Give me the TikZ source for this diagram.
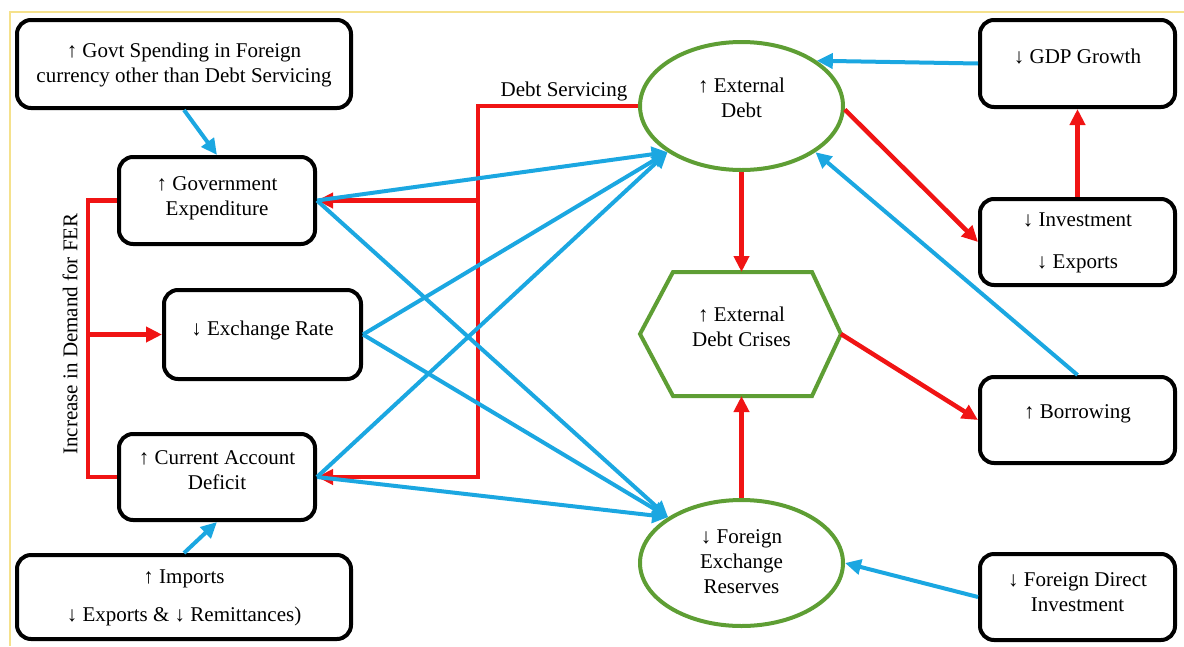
\documentclass[tikz,border=0pt]{standalone}
\usepackage{fontspec}
\setmainfont{Liberation Serif}
\usetikzlibrary{arrows.meta,shapes.geometric,calc}
\definecolor{cblue}{RGB}{27,167,225}
\definecolor{cred}{RGB}{240,20,20}
\definecolor{cgreen}{RGB}{94,158,52}
\definecolor{cyell}{RGB}{245,225,140}
\begin{document}
\begin{tikzpicture}[x=1pt,y=-1pt,
  font=\fontsize{21}{25}\selectfont,
  box/.style={draw=black, line width=4pt, rounded corners=14pt, inner sep=0pt, align=center},
  oval/.style={ellipse, draw=cgreen, line width=4pt, inner sep=0pt, align=center},
  barrow/.style={draw=cblue, line width=4pt, -{Triangle[length=16pt,width=15pt]}},
  rarrow/.style={draw=cred, line width=4.5pt, -{Triangle[length=16pt,width=15pt]}},
  rline/.style={draw=cred, line width=4.5pt},
  hexline/.style={draw=cgreen, line width=4pt},
  frame/.style={draw=cyell, line width=1.5pt}
]
\useasboundingbox (0,0) rectangle (1184,646);
\draw[frame] (10,646) -- (10,12) -- (1184,12);

% left column
\node[box, minimum width=334pt, minimum height=88pt, text depth=2pt] (gs) at (184,64)
  {↑ Govt Spending in Foreign\\currency other than Debt Servicing};
\node[box, minimum width=196pt, minimum height=87pt, text depth=9pt] (ge) at (217,200.5)
  {↑ Government\\Expenditure};
\node[box, minimum width=197pt, minimum height=89pt, text depth=13pt] (er) at (262.5,334.5)
  {↓ Exchange Rate};
\node[box, minimum width=196pt, minimum height=86pt, text depth=14pt] (cad) at (217,477)
  {↑ Current Account\\Deficit};
\node[box, minimum width=334pt, minimum height=84pt, text depth=2pt] (imp) at (184,597)
  {↑ Imports\\[13pt]↓ Exports \& ↓ Remittances)};

% centre
\node[oval, minimum width=203pt, minimum height=128pt, text depth=16pt] (ed) at (741.5,106)
  {↑ External\\Debt};
\node[oval, minimum width=203pt, minimum height=126pt, text depth=2pt] (fer) at (741.5,563)
  {↓ Foreign\\Exchange\\Reserves};
\coordinate (hl)  at (640,334);
\coordinate (htl) at (673,272);
\coordinate (htr) at (812,272);
\coordinate (hr)  at (841,334);
\coordinate (hbr) at (812,396);
\coordinate (hbl) at (673,396);
\coordinate (ht)  at (741.5,272);
\coordinate (hb)  at (741.5,396);
\draw[hexline] (hl) -- (htl) -- (htr) -- (hr) -- (hbr) -- (hbl) -- cycle;
\node[align=center, inner sep=0pt, text depth=14pt] (crises) at (741.5,334)
  {↑ External\\Debt Crises};

% right column
\node[box, minimum width=195pt, minimum height=87pt, text depth=15pt] (gdp) at (1077.5,63.5)
  {↓ GDP Growth};
\node[box, minimum width=195pt, minimum height=86pt, text depth=2pt] (inv) at (1077.5,242)
  {↓ Investment\\[17pt]↓ Exports};
\node[box, minimum width=195pt, minimum height=86pt, text depth=17pt] (bor) at (1077.5,420)
  {↑ Borrowing};
\node[box, minimum width=195pt, minimum height=86pt, text depth=10pt] (fdi) at (1077.5,597)
  {↓ Foreign Direct\\Investment};

% labels
\node[inner sep=0pt] (dslab) at (564,91) {Debt Servicing};
\node[inner sep=0pt, rotate=90] (ferlab) at (70,334) {Increase in Demand for FER};

% red connectors
\coordinate (dsx) at (478,0);
\coordinate (lx) at (88,0);
\draw[rarrow] (ed.west) -| (dsx |- cad.east) -- (cad.east);
\draw[rarrow] (dsx |- ge.east) -- (ge.east);
\draw[rline] (ge.west) -| (lx |- cad.west) -- (cad.west);
\draw[rarrow] (lx |- er.west) -- (er.west);
\draw[rarrow] (ed.south) -- (ht);
\draw[rarrow] (fer.north) -- (hb);
\draw[rarrow] (ed.-2) -- (inv.west);
\draw[rarrow] (hr) -- (bor.west);
\draw[rarrow] (inv.north) -- (gdp.south);

% blue connectors
\draw[barrow] (gs.south) -- (ge.north);
\draw[barrow] (imp.north) -- (cad.south);
\draw[barrow] (gdp.west) -- (ed.31);
\draw[barrow] (bor.north) -- (ed.-32);
\draw[barrow] (fdi.west) -- (fer.east);
\draw[barrow] (ge.east) -- (ed.212);
\draw[barrow] (er.east) -- (ed.212);
\draw[barrow] (cad.east) -- (ed.212);
\draw[barrow] (ge.east) -- (fer.148);
\draw[barrow] (er.east) -- (fer.148);
\draw[barrow] (cad.east) -- (fer.148);
\end{tikzpicture}
\end{document}
